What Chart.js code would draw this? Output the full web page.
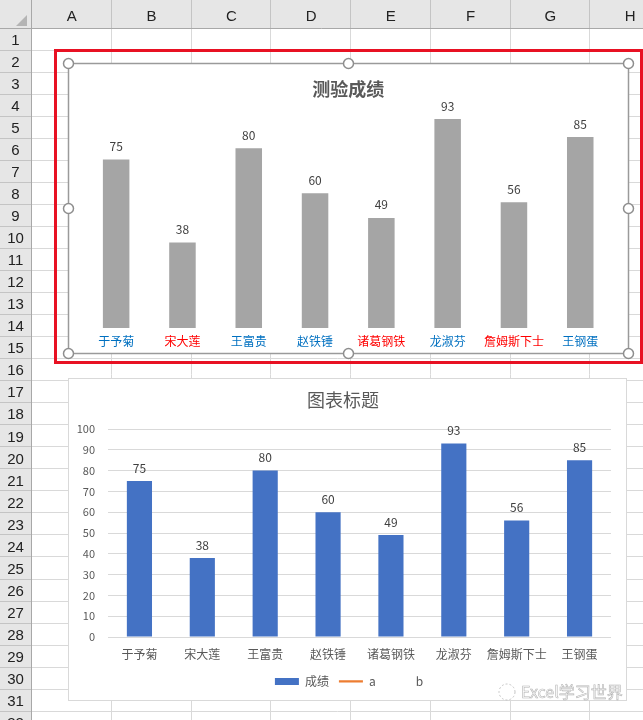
<!DOCTYPE html>
<html>
<head>
<meta charset="utf-8">
<script src="https://cdn.jsdelivr.net/npm/chart.js@4.4.0/dist/chart.umd.min.js"></script>
<style>
html, body { margin: 0; padding: 0; background: #fff; overflow: hidden; }
#sheet, #over { position: absolute; left: 0; top: 0; }
#over { pointer-events: none; }
.box { position: absolute; background: #fff; }
</style>
</head>
<body>
<canvas id="sheet" width="643" height="720"></canvas>
<div class="box" style="left:69px;top:64px;width:559px;height:289px"><canvas id="chart1"></canvas></div>
<div class="box" style="left:69px;top:379px;width:557px;height:321px"><canvas id="chart2"></canvas></div>
<canvas id="over" width="643" height="720"></canvas>
<script>
// 数据
var names = ['于予菊', '宋大莲', '王富贵', '赵铁锤', '诸葛钢铁', '龙淑芬', '詹姆斯下士', '王钢蛋'];
var scores = [75, 38, 80, 60, 49, 93, 56, 85];
var seriesA = [];
var seriesB = [];
var passMark = 60;
var yMax = 100;
var yStep = 10;
var colLetters = ['A', 'B', 'C', 'D', 'E', 'F', 'G', 'H'];
var rowCount = 32;

Chart.defaults.font.family = '"Noto Sans CJK SC", "Noto Sans", sans-serif';
Chart.defaults.animation = false;

// 表格背景
function drawSheet() {
    var c = document.getElementById('sheet').getContext('2d');
    var colW = 79.75, rowH = 22.02, top = 29, left = 32;
    c.fillStyle = '#fff';
    c.fillRect(0, 0, 643, 720);
    c.fillStyle = '#e6e6e6';
    c.fillRect(0, 0, 643, top);
    c.fillRect(0, 0, left, 720);
    c.lineWidth = 1;
    // grid
    c.strokeStyle = '#d9d9d9';
    for (var i = 1; i <= colLetters.length; i++) {
        var x = Math.round(left + colW * i) - 0.5;
        c.beginPath(); c.moveTo(x, top); c.lineTo(x, 720); c.stroke();
    }
    for (var r = 1; r <= rowCount; r++) {
        var y = Math.round(top + rowH * r) - 0.5;
        c.beginPath(); c.moveTo(left, y); c.lineTo(643, y); c.stroke();
    }
    // header separators
    c.strokeStyle = '#c4c4c4';
    for (var i = 1; i <= colLetters.length; i++) {
        var x = Math.round(left + colW * i) - 0.5;
        c.beginPath(); c.moveTo(x, 0); c.lineTo(x, top); c.stroke();
    }
    for (var r = 1; r <= rowCount; r++) {
        var y = Math.round(top + rowH * r) - 0.5;
        c.beginPath(); c.moveTo(0, y); c.lineTo(left, y); c.stroke();
    }
    c.strokeStyle = '#a8a8a8';
    c.beginPath(); c.moveTo(0, top - 0.5); c.lineTo(643, top - 0.5); c.stroke();
    c.beginPath(); c.moveTo(left - 0.5, 0); c.lineTo(left - 0.5, 720); c.stroke();
    // corner triangle
    c.fillStyle = '#b4b4b4';
    c.beginPath(); c.moveTo(27, 15); c.lineTo(27, 26); c.lineTo(16, 26); c.closePath(); c.fill();
    // labels
    c.fillStyle = '#222';
    c.font = '15px "Liberation Sans", sans-serif';
    c.textAlign = 'center';
    c.textBaseline = 'middle';
    colLetters.forEach(function (l, i) {
        c.fillText(l, left + colW * (i + 0.5), 17);
    });
    for (var r = 1; r <= rowCount; r++) {
        c.fillText(String(r), 15.5, top + rowH * (r - 0.5) + 1);
    }
}

// 选中框、把手、水印
function drawOverlay() {
    var c = document.getElementById('over').getContext('2d');
    c.strokeStyle = '#e81123';
    c.lineWidth = 3;
    c.strokeRect(55.5, 50.5, 586, 312);
    c.strokeStyle = '#9a9a9a';
    c.lineWidth = 1.5;
    c.strokeRect(68.5, 63.5, 560, 290);
    var hx = [68.5, 348.5, 628.5], hy = [63.5, 208.5, 353.5];
    hx.forEach(function (x) {
        hy.forEach(function (y) {
            if (x === 348.5 && y === 208.5) return;
            c.beginPath(); c.arc(x, y, 5, 0, Math.PI * 2);
            c.fillStyle = '#fff'; c.fill();
            c.strokeStyle = '#8e8e8e'; c.lineWidth = 1.5; c.stroke();
        });
    });
    c.strokeStyle = '#d9d9d9';
    c.lineWidth = 1;
    c.strokeRect(68.5, 378.5, 558, 322);
    // watermark
    c.setLineDash([2, 2]);
    c.strokeStyle = '#c4c4c4';
    c.beginPath(); c.arc(507, 692, 8, 0, Math.PI * 2); c.stroke();
    c.setLineDash([]);
    c.font = '16px "Noto Sans CJK SC", sans-serif';
    c.textAlign = 'left';
    c.textBaseline = 'middle';
    c.fillStyle = '#fff';
    c.fillText('Excel学习世界', 521, 692);
    c.strokeStyle = '#b4b4b4';
    c.lineWidth = 0.6;
    c.strokeText('Excel学习世界', 521, 692);
}

// 柱子上的数值
var valueLabels = {
    id: 'valueLabels',
    afterDatasetsDraw: function (chart, args, opts) {
        var ctx = chart.ctx;
        var meta = chart.getDatasetMeta(0);
        ctx.save();
        ctx.font = '12px "Noto Sans CJK SC", sans-serif';
        ctx.fillStyle = opts.color || '#404040';
        ctx.textAlign = 'center';
        ctx.textBaseline = 'middle';
        meta.data.forEach(function (bar, i) {
            ctx.fillText(chart.data.datasets[0].data[i], bar.x, bar.y - 13);
        });
        ctx.restore();
    }
};

// 图例稍微右移，跟Excel一样居中在绘图区
var legendShift = {
    id: 'legendShift',
    afterLayout: function (chart, args, opts) {
        if (chart.legend) {
            chart.legend.left += opts.dx;
            chart.legend.right += opts.dx;
        }
    }
};

function setupChart1() {
    return new Chart(document.getElementById('chart1'), {
        type: 'bar',
        data: {
            labels: names,
            datasets: [{
                label: '成绩',
                data: scores,
                backgroundColor: '#a5a5a5',
                categoryPercentage: 1,
                barPercentage: 0.4
            }]
        },
        options: {
            responsive: true,
            maintainAspectRatio: false,
            layout: { padding: { left: 14, right: 14.6, top: 0, bottom: 5.6 } },
            scales: {
                x: {
                    grid: { display: false, drawTicks: false },
                    border: { display: false },
                    ticks: {
                        padding: 6,
                        maxRotation: 0,
                        autoSkip: false,
                        font: { size: 12 },
                        color: function (ctx) {
                            return scores[ctx.index] < passMark ? '#ff0000' : '#0070c0';
                        }
                    },
                    afterFit: function (s) { s.height -= 7; }
                },
                y: { display: false, min: 0, max: yMax }
            },
            plugins: {
                legend: { display: false },
                tooltip: { enabled: false },
                title: {
                    display: true,
                    text: '测验成绩',
                    color: '#595959',
                    font: { size: 18, weight: 'bold' },
                    padding: { top: 14, bottom: 3.7 }
                },
                valueLabels: { color: '#404040' }
            }
        },
        plugins: [valueLabels]
    });
}

function setupChart2() {
    return new Chart(document.getElementById('chart2'), {
        type: 'bar',
        data: {
            labels: names,
            datasets: [{
                type: 'bar',
                label: '成绩',
                data: scores,
                backgroundColor: '#4472c4',
                categoryPercentage: 1,
                barPercentage: 0.4
            }, {
                type: 'line',
                label: 'a',
                data: seriesA,
                borderColor: '#ed7d31',
                borderWidth: 2.25
            }, {
                type: 'line',
                label: 'b',
                data: seriesB,
                borderColor: 'rgba(0,0,0,0)'
            }]
        },
        options: {
            responsive: true,
            maintainAspectRatio: false,
            layout: { padding: { left: 6, right: 15, top: 0, bottom: 2.6 } },
            scales: {
                x: {
                    grid: { display: false, drawTicks: false },
                    border: { display: false },
                    ticks: { padding: 10, maxRotation: 0, autoSkip: false, color: '#595959', font: { size: 12 } },
                    afterFit: function (s) { s.height -= 6; }
                },
                y: {
                    min: 0,
                    max: yMax,
                    ticks: { stepSize: yStep, padding: 13, color: '#595959', font: { size: 11 } },
                    grid: { color: '#d9d9d9', drawTicks: false },
                    border: { display: false },
                    afterFit: function (s) { s.width = 33; }
                }
            },
            plugins: {
                tooltip: { enabled: false },
                title: {
                    display: true,
                    text: '图表标题',
                    color: '#595959',
                    font: { size: 18, weight: 'normal' },
                    padding: { top: 10.2, bottom: 18.2 }
                },
                legend: {
                    position: 'bottom',
                    labels: {
                        usePointStyle: true,
                        pointStyleWidth: 24,
                        boxHeight: 7,
                        padding: 10,
                        color: '#595959',
                        font: { size: 12 },
                        generateLabels: function (chart) {
                            return chart.data.datasets.map(function (ds, i) {
                                var isBar = ds.type === 'bar';
                                return {
                                    text: ds.label,
                                    datasetIndex: i,
                                    fillStyle: isBar ? ds.backgroundColor : 'rgba(0,0,0,0)',
                                    strokeStyle: isBar ? 'rgba(0,0,0,0)' : ds.borderColor,
                                    lineWidth: isBar ? 0 : 2.25,
                                    pointStyle: isBar ? 'rect' : 'line',
                                    fontColor: '#595959',
                                    hidden: false
                                };
                            });
                        }
                    }
                },
                legendShift: { dx: 6 },
                valueLabels: { color: '#404040' }
            }
        },
        plugins: [valueLabels, legendShift]
    });
}

drawSheet();
var myChart1 = setupChart1();
var myChart2 = setupChart2();
drawOverlay();
</script>
</body>
</html>
